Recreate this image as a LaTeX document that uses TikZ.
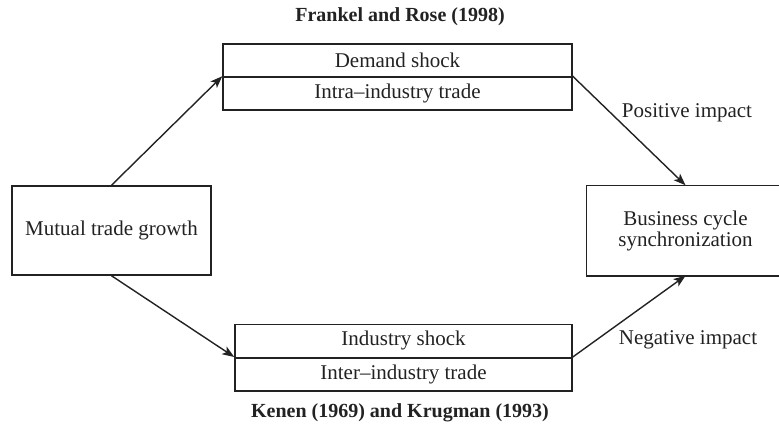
\documentclass[tikz,border=0pt]{standalone}
\usepackage{fontspec}
\setmainfont{Liberation Serif}
\usetikzlibrary{arrows.meta}
\definecolor{ink}{HTML}{222222}
\begin{document}
\begin{tikzpicture}[x=0.5pt,y=-0.5pt,
  every node/.style={text=ink},
  cell/.style={draw=ink, line width=0.75pt, inner sep=0pt, minimum height=16.5pt, font=\fontsize{10.5}{10.5}\selectfont},
  bigbox/.style={draw=ink, line width=0.75pt, inner sep=0pt, minimum height=44.5pt, align=center, font=\fontsize{10.5}{10.5}\selectfont},
  lbl/.style={inner sep=0pt, font=\fontsize{10.5}{10.5}\selectfont},
  ref/.style={inner sep=0pt, font=\fontsize{10}{10}\selectfont\bfseries},
  arr/.style={draw=ink, line width=0.7pt, -{Stealth[length=6pt,width=4.5pt,inset=1.5pt]}}]
\useasboundingbox (0,0) rectangle (779,428);
\clip (0,0) rectangle (779,428);
\node[ref] (fr) at (400,17) {Frankel and Rose (1998)};
\node[cell, minimum width=174.5pt] (topA) at (397.5,60.5) {Demand shock};
\node[cell, minimum width=174.5pt] (topB) at (397.5,93.5) {Intra--industry trade};
\node[cell, minimum width=168.5pt] (botA) at (403.5,340.75) {Industry shock};
\node[cell, minimum width=168.5pt] (botB) at (403.5,374.25) {Inter--industry trade};
\node[ref] (ke) at (400,413) {Kenen (1969) and Krugman (1993)};
\node[bigbox, minimum width=99.5pt] (mut) at (111.5,230.5) {Mutual trade growth};
\node[bigbox, draw=none, minimum width=98.5pt] (bcs) at (685.5,230.5) {Business cycle\\synchronization};
\draw[draw=ink, line width=0.75pt] (bcs.north west) rectangle ([xshift=30pt]bcs.south east);
\node[lbl] (pos) at (687,113) {Positive impact};
\node[lbl] (neg) at (688,340) {Negative impact};
\draw[arr] (mut.north) -- (topB.north west);
\draw[arr] (mut.south) -- (botB.north west);
\draw[arr] (topB.north east) -- (bcs.north);
\draw[arr] (botB.north east) -- (bcs.south);
\end{tikzpicture}
\end{document}
